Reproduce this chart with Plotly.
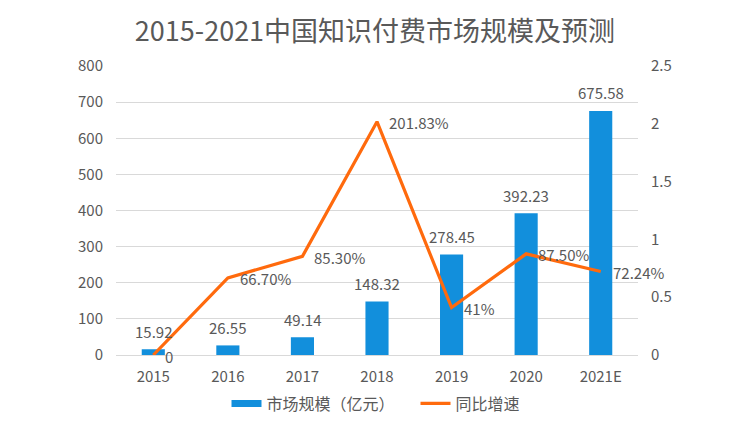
import plotly.graph_objects as go

years = ["2015", "2016", "2017", "2018", "2019", "2020", "2021E"]
market_size = [15.92, 26.55, 49.14, 148.32, 278.45, 392.23, 675.58]
growth = [0, 0.667, 0.853, 2.0183, 0.41, 0.875, 0.7224]
growth_labels = ["0", "66.70%", "85.30%", "201.83%", "41%", "87.50%", "72.24%"]
size_labels = ["15.92", "26.55", "49.14", "148.32", "278.45", "392.23", "675.58"]

FONT = "Noto Sans CJK SC"
TXT = "#595959"
BLUE = "#128FDC"
ORANGE = "#FF6A0D"

fig = go.Figure()
fig.add_trace(go.Bar(
    x=years, y=market_size, name="市场规模（亿元）",
    marker=dict(color=BLUE, line=dict(width=0)),
    showlegend=False, yaxis="y",
))
fig.add_trace(go.Scatter(
    x=years, y=growth, name="同比增速", mode="lines",
    line=dict(color=ORANGE, width=3.2),
    showlegend=False, cliponaxis=False, yaxis="y2",
))
# legend entries (wide flat swatch for the bars, line for growth)
fig.add_trace(go.Scatter(x=[years[0]], y=[None], mode="lines", name="市场规模（亿元）",
                         line=dict(color=BLUE, width=7), yaxis="y"))
fig.add_trace(go.Scatter(x=[years[0]], y=[None], mode="lines", name="同比增速",
                         line=dict(color=ORANGE, width=3.2), yaxis="y2"))

annotations = []
for i, (v, lab) in enumerate(zip(market_size, size_labels)):
    annotations.append(dict(x=i, y=v, xref="x", yref="y", text=lab, showarrow=False,
                            xanchor="center", yanchor="middle", yshift=18,
                            font=dict(size=15, color=TXT, family=FONT)))
for i, (g, lab) in enumerate(zip(growth, growth_labels)):
    annotations.append(dict(x=i, y=g, xref="x", yref="y2", text=lab, showarrow=False,
                            xanchor="left", yanchor="middle", xshift=11, yshift=-1,
                            borderpad=0,
                            font=dict(size=15, color=TXT, family=FONT)))

# page body adds an 8px offset; the figure is sized and placed to compensate
fig.update_layout(
    width=742, height=424,
    margin=dict(l=108, r=112, t=58, b=74),
    paper_bgcolor="white", plot_bgcolor="white",
    font=dict(family=FONT, color=TXT, size=15),
    title=dict(text="2015-2021中国知识付费市场规模及预测", x=0.4946, xanchor="center",
               y=1 - 24 / 424, yanchor="middle", yref="container",
               font=dict(size=27, color=TXT, family=FONT)),
    bargap=0.69,
    showlegend=True,
    annotations=annotations,
    legend=dict(orientation="h", x=0.2117, xanchor="left", y=-0.168, yanchor="middle",
                font=dict(size=16, color=TXT, family=FONT), itemwidth=30,
                entrywidth=144, entrywidthmode="pixels"),
    xaxis=dict(type="category", categoryorder="array", categoryarray=years,
               range=[-0.5, len(years) - 0.5],
               showgrid=False, showline=False, ticks="", tickfont=dict(size=15, color=TXT),
               ticklabelstandoff=11),
    yaxis=dict(range=[0, 800], dtick=100, showgrid=True, gridcolor="#D9D9D9", gridwidth=1.3,
               zeroline=True, zerolinecolor="#D9D9D9", zerolinewidth=1.3,
               tickfont=dict(size=15, color=TXT), ticklabelstandoff=12),
    yaxis2=dict(range=[0, 2.5], dtick=0.5, overlaying="y", side="right", showgrid=False,
                zeroline=False, tickfont=dict(size=15, color=TXT), ticklabelstandoff=12),
)

fig.write_html("out.html")
